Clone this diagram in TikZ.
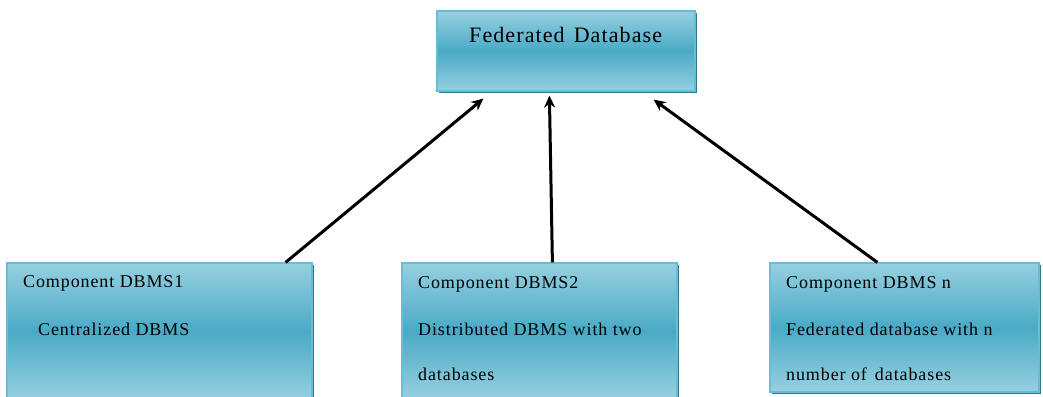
\documentclass[tikz,border=0pt]{standalone}
\usepackage{fontspec}
\setmainfont{Liberation Serif}[LetterSpace=5]
\usetikzlibrary{arrows.meta,calc,shadows}
\definecolor{aquaTop}{HTML}{96D0E0}
\definecolor{aquaMid}{HTML}{4AAAC6}
\definecolor{aquaEdge}{HTML}{6DBAD3}
\definecolor{aquaShadow}{HTML}{2C7B91}

\begin{document}
\begin{tikzpicture}[x=1pt,y=-1pt,
  panel/.style={draw=aquaEdge, line width=1.2pt, shading=axis,
    top color=aquaTop, bottom color=aquaTop, middle color=aquaMid,
    inner sep=0pt, rectangle,
    general shadow={fill=aquaShadow, shadow xshift=1.5pt, shadow yshift=-2pt}},
  caption/.style={anchor=base west, inner sep=0pt, text=black,
    font=\fontsize{18}{20}\selectfont},
  title/.style={anchor=base west, inner sep=0pt, text=black,
    font=\fontsize{22}{24}\selectfont},
  link/.style={-{Stealth[length=12pt,width=11pt]}, line width=3pt, black}]

\useasboundingbox (0,0) rectangle (1043,396);

% federated database on top
\node[panel, minimum width=258pt, minimum height=80pt] (fed) at (566,51) {};
\node[title] (fedtext) at (469,43) {Federated\hspace{9pt}Database};

% component databases
\begin{scope}
\clip (0,0) rectangle (1043,396);
\node[panel, minimum width=305pt, minimum height=136pt] (c1) at (159.5,331) {};
\node[panel, minimum width=275pt, minimum height=136pt] (c2) at (539.5,331) {};
\node[panel, minimum width=269pt, minimum height=129pt] (c3) at (904.5,327.5) {};
\end{scope}

\node[caption] (c1a) at (23,287) {Component DBMS1};
\node[caption] (c1b) at (38,335) {Centralized DBMS};

\node[caption] (c2a) at (418,288) {Component DBMS2};
\node[caption] (c2b) at (418,335) {Distributed DBMS with two};
\node[caption] (c2c) at (418,380) {databases};

\node[caption] (c3a) at (786,288) {Component DBMS n};
\node[caption] (c3b) at (786,335) {Federated database with n};
\node[caption] (c3c) at (786,380) {number of\hspace{8pt}databases};

% links from each component up to the federation
\draw[link] ($(c1.north east)+(-27,0)$) -- ($(fed.south west)+(47,7)$);
\draw[link] ($(c2.north west)+(151,0)$) -- ($(fed.south west)+(113,4)$);
\draw[link] ($(c3.north west)+(108,0)$) -- ($(fed.south east)+(-42,8)$);
\end{tikzpicture}
\end{document}
